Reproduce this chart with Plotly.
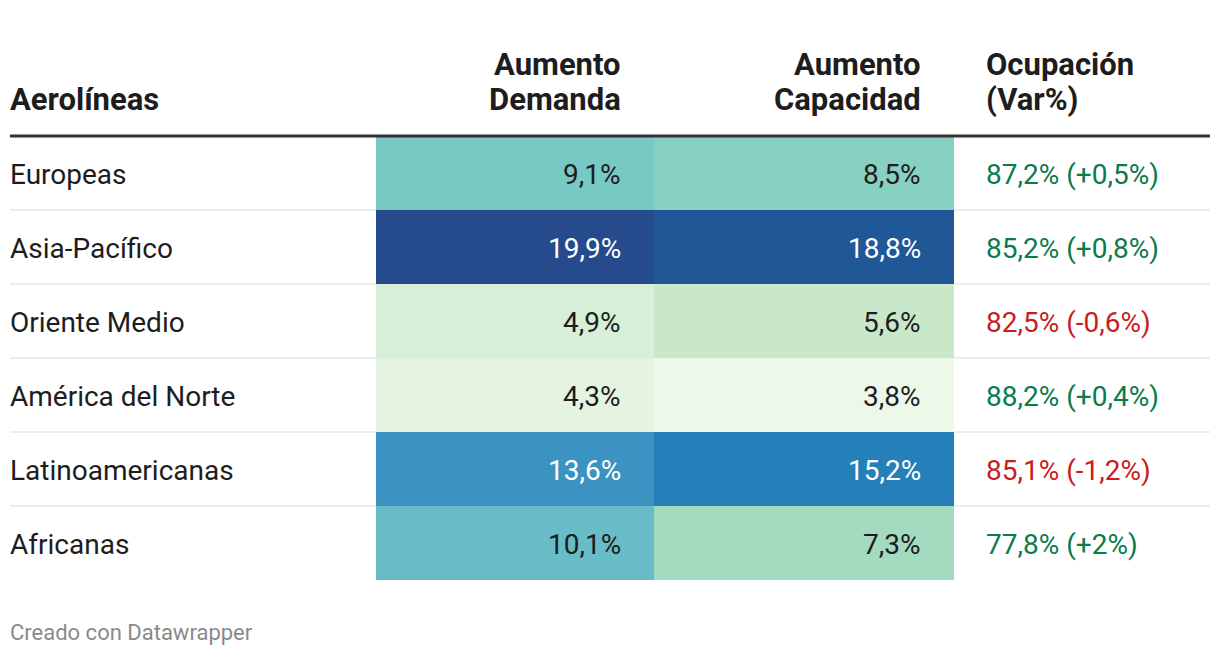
import plotly.graph_objects as go

# ---- data ----
airlines = ["Europeas", "Asia-Pacífico", "Oriente Medio", "América del Norte",
            "Latinoamericanas", "Africanas"]
demand_growth = [9.1, 19.9, 4.9, 4.3, 13.6, 10.1]
capacity_growth = [8.5, 18.8, 5.6, 3.8, 15.2, 7.3]
occupancy = [87.2, 85.2, 82.5, 88.2, 85.1, 77.8]
occupancy_change = [0.5, 0.8, -0.6, 0.4, -1.2, 2]
headers = [["", "Aerolíneas"], ["Aumento", "Demanda"], ["Aumento", "Capacidad"],
           ["Ocupación", "(Var%)"]]
footer = "Creado con Datawrapper"

# colour scale (value -> colour)
color_stops = [(3.8, "#eef8e9"), (4.3, "#e4f4e1"), (4.9, "#d6efd6"), (5.6, "#c9e8ca"),
               (7.3, "#a3dac0"), (8.5, "#88d0c2"), (9.1, "#78c8c4"), (10.1, "#68bcc7"),
               (13.6, "#3a93c0"), (15.2, "#2580b9"), (18.8, "#205897"), (19.9, "#264b8c")]

# ---- layout constants ----
W, H = 1220, 656
FONT = "Roboto"
LEFT, RIGHT = 10, 1210
ROW_TOP, ROW_H = 136, 74
COL_EDGES = [376, 654, 954]
NUM_RIGHT = [623, 923]
OCC_LEFT = 984
TEXT_LEFT = 8
BODY_SIZE = 28
HEAD_SIZE = 31
HEAD_LINES_Y = [64, 99]
DARK = "#1d1d1d"
GREEN = "#0a7b4b"
RED = "#c71e1d"

n = len(airlines)
row_edges = [ROW_TOP + ROW_H * i for i in range(n + 1)]
row_centers = [ROW_TOP + ROW_H * (i + 0.5) + 1 for i in range(n)]

zmin = color_stops[0][0]
zmax = color_stops[-1][0]
colorscale = [[(v - zmin) / (zmax - zmin), c] for v, c in color_stops]


def fmt(v, sign=False):
    s = f"{v:+g}" if sign else f"{v:.1f}"
    return s.replace(".", ",")


fig = go.Figure()
fig.add_trace(go.Heatmap(
    x=COL_EDGES, y=row_edges,
    z=[[d, c] for d, c in zip(demand_growth, capacity_growth)],
    colorscale=colorscale, zmin=zmin, zmax=zmax, showscale=False,
    hoverinfo="skip",
))

ann = []
# headers
head_x = [TEXT_LEFT, NUM_RIGHT[0], NUM_RIGHT[1], OCC_LEFT]
head_anchor = ["left", "right", "right", "left"]
for lines, x, a in zip(headers, head_x, head_anchor):
    for t, y in zip(lines, HEAD_LINES_Y):
        if not t:
            continue
        ann.append(dict(x=x, y=y, xref="x", yref="y", text=f"<b>{t}</b>", showarrow=False,
                        xanchor=a, yanchor="middle", align=a,
                        font=dict(family=FONT, size=HEAD_SIZE, color=DARK)))
# body
for i in range(n):
    yc = row_centers[i]
    ann.append(dict(x=TEXT_LEFT, y=yc, xref="x", yref="y", text=airlines[i], showarrow=False,
                    xanchor="left", yanchor="middle",
                    font=dict(family=FONT, size=BODY_SIZE, color=DARK)))
    for j, vals in enumerate([demand_growth, capacity_growth]):
        v = vals[i]
        ann.append(dict(x=NUM_RIGHT[j], y=yc, xref="x", yref="y", text=fmt(v) + "%",
                        showarrow=False, xanchor="right", yanchor="middle",
                        font=dict(family=FONT, size=BODY_SIZE,
                                  color="white" if v > 12 else DARK)))
    ch = occupancy_change[i]
    ann.append(dict(x=OCC_LEFT, y=yc, xref="x", yref="y",
                    text=f"{fmt(occupancy[i])}% ({fmt(ch, True)}%)", showarrow=False,
                    xanchor="left", yanchor="middle",
                    font=dict(family=FONT, size=BODY_SIZE, color=GREEN if ch > 0 else RED)))
ann.append(dict(x=TEXT_LEFT, y=632, xref="x", yref="y", text=footer, showarrow=False,
                xanchor="left", yanchor="middle",
                font=dict(family=FONT, size=22, color="#8a8a8a")))

shapes = []
for y in row_edges[1:-1]:
    shapes.append(dict(type="line", x0=LEFT, x1=RIGHT, y0=y, y1=y, xref="x", yref="y",
                       layer="below", line=dict(color="#ececec", width=2)))
shapes.append(dict(type="line", x0=LEFT, x1=RIGHT, y0=ROW_TOP, y1=ROW_TOP, xref="x", yref="y",
                   layer="above", line=dict(color="#333333", width=3)))

fig.update_layout(
    width=W, height=H, margin=dict(l=0, r=0, t=0, b=0),
    paper_bgcolor="white", plot_bgcolor="white",
    xaxis=dict(range=[0, W], visible=False, fixedrange=True),
    yaxis=dict(range=[H, 0], visible=False, fixedrange=True),
    annotations=ann, shapes=shapes, showlegend=False,
)
fig.write_html("out.html", config={"displayModeBar": False},
               post_script="document.body.style.margin='0';")
